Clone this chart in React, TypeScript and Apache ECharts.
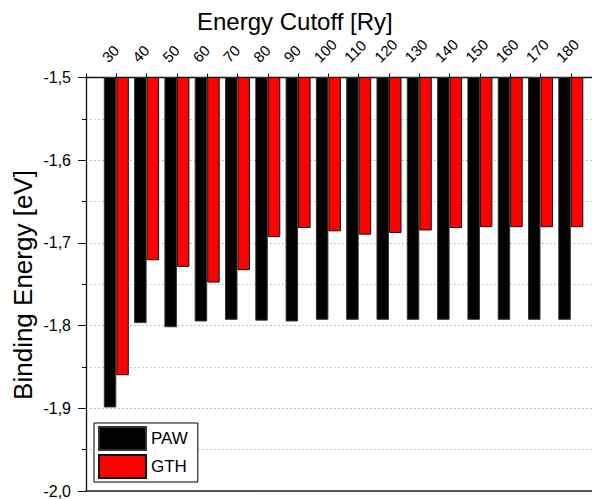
import React, { useEffect, useRef } from "react";
import * as echarts from "echarts";

const categories = [30, 40, 50, 60, 70, 80, 90, 100, 110, 120, 130, 140, 150, 160, 170, 180];
const pawValues = [-1.899, -1.797, -1.802, -1.795, -1.793, -1.794, -1.795, -1.793, -1.793, -1.793, -1.793, -1.793, -1.793, -1.793, -1.793, -1.793];
const gthValues = [-1.86, -1.721, -1.729, -1.748, -1.733, -1.693, -1.682, -1.686, -1.69, -1.688, -1.685, -1.682, -1.681, -1.681, -1.681, -1.681];
const yTicks = [-2.0, -1.9, -1.8, -1.7, -1.6, -1.5];

const FONT = "'Liberation Sans', Arial, sans-serif";

export default function App() {
  const ref = useRef<HTMLDivElement>(null);
  useEffect(() => {
    if (!ref.current) return;
    const chart = echarts.init(ref.current, undefined, { renderer: "svg" });
    const plotLeft = 86;
    const catPx = 30.27;
    const firstCenter = 116.5;
    const labelShift = -12;
    const g1Left = firstCenter + labelShift - catPx / 2;
    const g1Width = catPx * categories.length;
    const dotted = { color: "#aaa", width: 1, type: [1.5, 2.5] as number[] };
    chart.setOption({
      animation: false,
      textStyle: { fontFamily: FONT },
      grid: [
        { left: plotLeft, right: 0, top: 77.5, bottom: 6 },
        { left: g1Left, width: g1Width, top: 77.5, height: 50 },
      ],
      xAxis: [
        {
          type: "value",
          gridIndex: 0,
          position: "top",
          min: 20,
          max: 187,
          interval: 10,
          axisLine: { show: true, lineStyle: { color: "#111", width: 1.3 } },
          axisTick: { show: true, inside: false, length: 4, lineStyle: { color: "#111" } },
          axisLabel: { show: false },
          splitLine: { show: false },
        },
        {
          type: "category",
          gridIndex: 1,
          position: "top",
          data: categories.map(String),
          axisLine: { show: false },
          axisTick: { show: false },
          axisLabel: {
            interval: 0,
            rotate: 45,
            margin: 18,
            fontSize: 15,
            color: "#000",
            fontFamily: FONT,
          },
          splitLine: { show: false },
        },
        {
          type: "value",
          gridIndex: 0,
          position: "bottom",
          min: 20,
          max: 187,
          interval: 10,
          axisLine: { show: true, lineStyle: { color: "#222", width: 1.6 } },
          axisTick: { show: false },
          axisLabel: { show: false },
          splitLine: { show: false },
        },
      ],
      yAxis: [
        {
          type: "value",
          gridIndex: 0,
          min: yTicks[0],
          max: yTicks[yTicks.length - 1],
          interval: 0.1,
          axisLine: { show: true, lineStyle: { color: "#111", width: 1.3 } },
          axisTick: { show: true, length: 8, lineStyle: { color: "#111" } },
          minorTick: { show: true, splitNumber: 2, length: 4, lineStyle: { color: "#111" } },
          splitLine: { show: true, lineStyle: dotted },
          minorSplitLine: { show: true, lineStyle: { ...dotted, color: "#bbb" } },
          axisLabel: {
            fontSize: 16,
            color: "#000",
            margin: 15,
            fontFamily: FONT,
            formatter: (v: number) => v.toFixed(1).replace(".", ","),
          },
        },
        { type: "value", gridIndex: 1, show: false },
      ],
      legend: {
        left: 94,
        top: 423,
        orient: "vertical",
        itemWidth: 47,
        itemHeight: 23,
        itemGap: 3,
        padding: [3, 10, 3, 4],
        borderColor: "#000",
        borderWidth: 1,
        backgroundColor: "#fff",
        icon: "rect",
        textStyle: { fontSize: 17, color: "#000", fontFamily: FONT },
        data: ["PAW", "GTH"],
      },
      graphic: [
        {
          type: "text",
          x: 197,
          y: 21,
          style: {
            text: "Energy Cutoff [Ry]",
            fontSize: 24,
            fontFamily: FONT,
            fill: "#000",
            textAlign: "left",
            textVerticalAlign: "middle",
          },
        },
        {
          type: "text",
          x: 22.5,
          y: 285,
          rotation: Math.PI / 2,
          style: {
            text: "Binding Energy [eV]",
            fontSize: 26,
            fontFamily: FONT,
            fill: "#000",
            textAlign: "center",
            textVerticalAlign: "middle",
          },
        },
      ],
      series: [
        {
          name: "PAW",
          type: "bar",
          xAxisIndex: 0,
          yAxisIndex: 0,
          barWidth: 12.5,
          barGap: "0%",
          clip: true,
          itemStyle: { color: "#000", borderColor: "#333", borderWidth: 1 },
          data: categories.map((c, i) => [c, pawValues[i]]),
        },
        {
          name: "GTH",
          type: "bar",
          xAxisIndex: 0,
          yAxisIndex: 0,
          barWidth: 12.5,
          barGap: "0%",
          clip: true,
          itemStyle: { color: "#ff0000", borderColor: "#111", borderWidth: 1 },
          data: categories.map((c, i) => [c, gthValues[i]]),
        },
      ],
    });
    return () => chart.dispose();
  }, []);
  return (
    <div
      ref={ref}
      style={{ position: "fixed", left: 0, top: 0, width: 592, height: 499, background: "#fff" }}
    />
  );
}
